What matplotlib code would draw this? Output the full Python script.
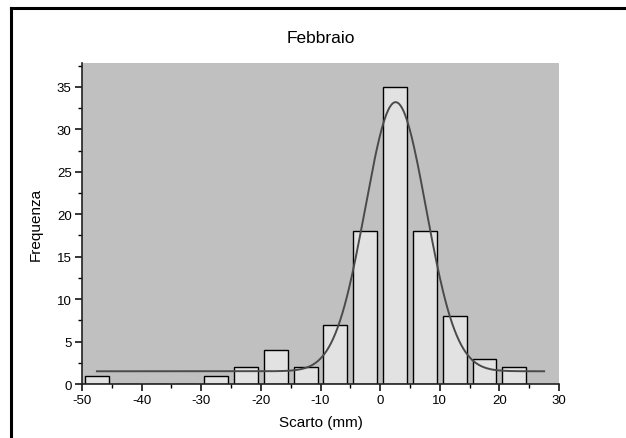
import numpy as np
import matplotlib.pyplot as plt
from matplotlib.lines import Line2D
from matplotlib.ticker import MultipleLocator

plt.rcParams['font.family'] = ['Liberation Sans', 'DejaVu Sans']
plt.rcParams['axes.unicode_minus'] = False

# Histogram data (bin centres, bin width 5 mm)
bin_centres = [-47.5, -42.5, -37.5, -32.5, -27.5, -22.5, -17.5, -12.5,
               -7.5, -2.5, 2.5, 7.5, 12.5, 17.5, 22.5]
counts = [1, 0, 0, 0, 1, 2, 4, 2, 7, 18, 35, 18, 8, 3, 2]

# Gaussian fit parameters (offset, amplitude, centre, sigma) and range
fit_y0 = 1.5
fit_amp = 31.7
fit_xc = 2.6
fit_sigma = 5.1
fit_range = (-47.5, 27.5)

fig = plt.figure(figsize=(6.26, 4.39), dpi=100)
ax = fig.add_axes([0.131, 0.123, 0.762, 0.731])
ax.set_facecolor('#c0c0c0')

ax.bar(bin_centres, counts, width=4, color='#e2e2e2', edgecolor='black',
       linewidth=1.0, zorder=2)

xf = np.linspace(fit_range[0], fit_range[1], 400)
yf = fit_y0 + fit_amp * np.exp(-(xf - fit_xc) ** 2 / (2 * fit_sigma ** 2))
ax.plot(xf, yf, color='#4a4a4a', linewidth=1.4, zorder=3)

ax.set_xlim(-50, 30)
ax.set_ylim(0, 37.8)
ax.xaxis.set_major_locator(MultipleLocator(10))
ax.xaxis.set_minor_locator(MultipleLocator(5))
ax.yaxis.set_major_locator(MultipleLocator(5))
ax.yaxis.set_minor_locator(MultipleLocator(2.5))

for side in ('top', 'right'):
    ax.spines[side].set_visible(False)
for side in ('left', 'bottom'):
    ax.spines[side].set_linewidth(1.2)
    ax.spines[side].set_color('#222222')

ax.tick_params(which='major', direction='out', length=5, width=1.1,
               labelsize=9.5, pad=2.5)
ax.tick_params(which='minor', direction='out', length=3, width=1.0)

ax.set_title('Febbraio', fontsize=12.5, pad=15)
ax.set_xlabel('Scarto (mm)', fontsize=11, labelpad=6)
ax.set_ylabel('Frequenza', fontsize=11, labelpad=10)

# frame lines at left and top of the picture
fig.add_artist(Line2D([11 / 626, 11 / 626], [0, 1 - 9 / 439],
                      transform=fig.transFigure, color='black', linewidth=2.2))
fig.add_artist(Line2D([11 / 626, 1], [1 - 9 / 439, 1 - 9 / 439],
                      transform=fig.transFigure, color='black', linewidth=2.2))

fig.savefig('out.png', dpi=100)
